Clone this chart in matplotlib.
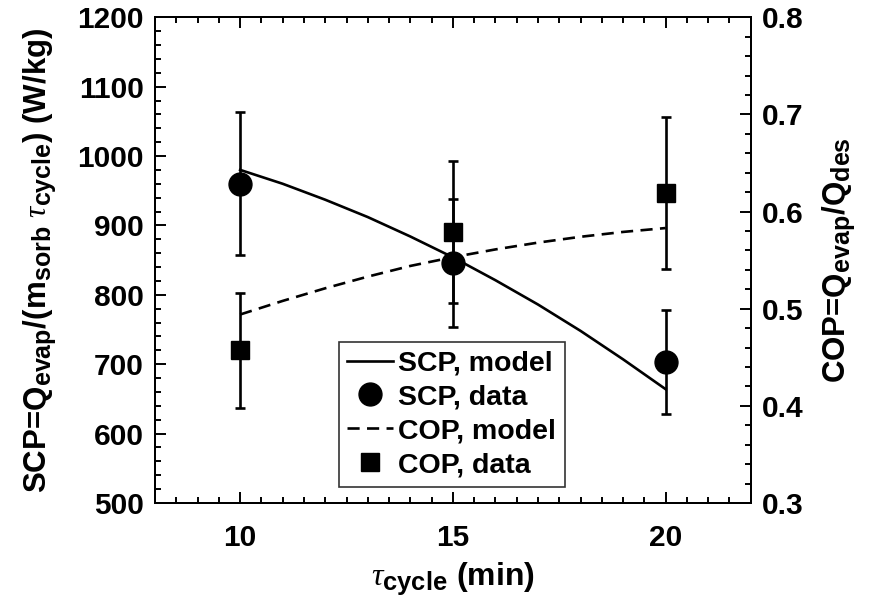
import matplotlib
matplotlib.use("Agg")
import matplotlib.pyplot as plt
import matplotlib._mathtext as _mt
from matplotlib.ticker import MultipleLocator

_mt.SHRINK_FACTOR = 0.8

plt.rcParams['font.family'] = ['Liberation Sans', 'DejaVu Sans']
plt.rcParams['font.weight'] = 'bold'
plt.rcParams['axes.labelweight'] = 'bold'
plt.rcParams['mathtext.fontset'] = 'custom'
plt.rcParams['mathtext.rm'] = 'Liberation Sans:bold'
plt.rcParams['mathtext.bf'] = 'Liberation Sans:bold'
plt.rcParams['mathtext.it'] = 'Liberation Serif:style=italic:weight=normal'
plt.rcParams['mathtext.default'] = 'rm'

# data
tau_data = [10, 15, 20]
scp_data = [960, 846, 703]
scp_err = [103, 92, 75]
cop_data = [0.457, 0.579, 0.619]
cop_err = [0.059, 0.073, 0.078]

tau_model = [10, 11, 12, 13, 14, 15, 16, 17, 18, 19, 20]
scp_model = [980, 960, 937, 912, 884, 854, 821, 786, 748, 707, 664]
cop_model = [0.494, 0.508, 0.521, 0.533, 0.544, 0.553, 0.561, 0.568, 0.574, 0.579, 0.583]

fig = plt.figure(figsize=(8.76, 6.11), dpi=100)
ax = fig.add_axes([0.177, 0.1768, 0.680, 0.795])
ax2 = ax.twinx()

lw = 1.9
l1, = ax.plot(tau_model, scp_model, color='black', lw=lw, label='SCP, model')
eb1 = ax.errorbar(tau_data, scp_data, yerr=scp_err, fmt='o', color='black',
                  ms=16.5, elinewidth=1.9, capsize=3.5, capthick=1.9, label='SCP, data')
l2, = ax2.plot(tau_model, cop_model, color='black', lw=lw, dashes=(4.6, 2.8), label='COP, model')
eb2 = ax2.errorbar(tau_data, cop_data, yerr=cop_err, fmt='s', color='black',
                   ms=12.5, elinewidth=1.9, capsize=3.5, capthick=1.9, label='COP, data')

ax.set_xlim(8, 22)
ax.set_ylim(500, 1200)
ax2.set_ylim(0.3, 0.8)

ax.xaxis.set_major_locator(MultipleLocator(5))
ax.xaxis.set_minor_locator(MultipleLocator(0.5))
ax.yaxis.set_major_locator(MultipleLocator(100))
ax.yaxis.set_minor_locator(MultipleLocator(20))
ax2.yaxis.set_major_locator(MultipleLocator(0.1))
ax2.yaxis.set_minor_locator(MultipleLocator(0.02))

fs = 21.5
ax.tick_params(axis='x', which='both', direction='in', top=True, labelsize=fs, pad=15, width=1.4)
ax.tick_params(axis='y', which='both', direction='in', right=False, labelsize=fs, pad=8, width=1.4)
ax2.tick_params(axis='y', which='both', direction='in', labelsize=fs, pad=8, width=1.4)
for a in (ax, ax2):
    a.tick_params(which='major', length=8)
    a.tick_params(which='minor', length=4)
    for s in a.spines.values():
        s.set_linewidth(1.4)

ax.set_xlabel(r'$\mathit{\tau}_{cycle}$ (min)', fontsize=23, labelpad=6)
ax.set_ylabel(r'SCP=Q$_{evap}$/(m$_{sorb}$ $\mathit{\tau}_{cycle}$) (W/kg)', fontsize=22.5, labelpad=14)
ax2.set_ylabel(r'COP=Q$_{evap}$/Q$_{des}$', fontsize=22.5, labelpad=12)

handles = [l1, eb1[0], l2, eb2[0]]
labels = ['SCP, model', 'SCP, data', 'COP, model', 'COP, data']
leg = ax2.legend(handles, labels, loc='lower left', bbox_to_anchor=(0.308, 0.033),
                 fontsize=20.5, frameon=True, fancybox=False, framealpha=1,
                 edgecolor='#333333', handlelength=1.6, handletextpad=0.2,
                 borderpad=0.3, labelspacing=0.28, borderaxespad=0)
leg.get_frame().set_linewidth(1.2)

fig.savefig('out.png', dpi=100)
